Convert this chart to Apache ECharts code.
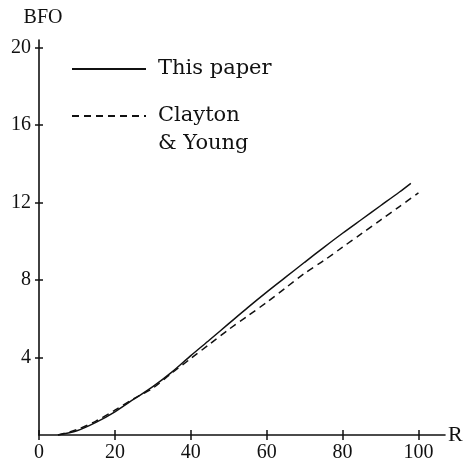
<!DOCTYPE html>
<html>
<head>
<meta charset="utf-8">
<script src="https://cdn.jsdelivr.net/npm/echarts@6/dist/echarts.min.js"></script>
<style>
  html, body { margin: 0; padding: 0; background: #fff; }
  #chart { width: 472px; height: 466px; }
</style>
</head>
<body>
<div id="chart"></div>
<script>
// R values and BFO
var rThis = [5, 10, 15, 20, 25, 30, 35, 40, 45, 50, 55, 60, 65, 70, 75, 80, 85, 90, 95, 98];
var bfoThis = [0, 0.22, 0.65, 1.2, 1.85, 2.5, 3.25, 4.1, 4.92, 5.75, 6.58, 7.38, 8.15, 8.92, 9.68, 10.42, 11.13, 11.84, 12.55, 13.0];
var rCY = [5, 10, 15, 20, 25, 30, 35, 40, 45, 50, 55, 60, 65, 70, 75, 80, 85, 90, 95, 100];
var bfoCY = [0, 0.28, 0.72, 1.28, 1.88, 2.42, 3.2, 3.95, 4.7, 5.45, 6.15, 6.85, 7.6, 8.35, 9.0, 9.7, 10.4, 11.1, 11.8, 12.5];
var xTicks = [0, 20, 40, 60, 80, 100];
var yTicks = [4, 8, 12, 16, 20];

function pairs(xs, ys) {
    return xs.map(function (x, i) { return [x, ys[i]]; });
}

var ink = '#111';
var serif = 'Liberation Serif';
var myChart = echarts.init(document.getElementById('chart'), null, {renderer: 'canvas'});

var legendText = {fontFamily: 'DejaVu Serif', fontSize: 21, color: ink, lineHeight: 28, padding: [0, 0, 0, 7]};

var option = {
    backgroundColor: '#fff',
    animation: false,
    grid: {left: 39, right: 27, top: 40, bottom: 31, containLabel: false},
    legend: [
        {
            data: ['This paper'],
            left: 71,
            top: 55,
            padding: 0,
            itemWidth: 74,
            itemHeight: 14,
            selectedMode: false,
            itemStyle: {color: 'transparent', borderWidth: 0, opacity: 0},
            textStyle: legendText
        },
        {
            data: ['Clayton & Young'],
            left: 71,
            top: 74,
            padding: 0,
            itemWidth: 74,
            itemHeight: 14,
            selectedMode: false,
            itemStyle: {color: 'transparent', borderWidth: 0, opacity: 0},
            // blank first line keeps the sample line level with "Clayton"
            formatter: function (name) {
                return ' \n' + name.replace(' & ', '\n& ');
            },
            textStyle: legendText
        }
    ],
    xAxis: [
        {
            type: 'value',
            min: 0,
            max: 107,
            name: 'R',
            nameLocation: 'end',
            nameGap: 3,
            nameTextStyle: {fontFamily: serif, fontSize: 22, color: ink, padding: [4, 0, 0, 0]},
            axisLine: {show: true, onZero: false, lineStyle: {color: ink, width: 1.6}},
            axisTick: {show: true, length: 5, customValues: xTicks, lineStyle: {color: ink, width: 1.5}},
            axisLabel: {customValues: xTicks, margin: 8, fontFamily: serif, fontSize: 20, color: ink},
            splitLine: {show: false}
        },
        {
            // upper half of the crossing ticks
            type: 'value',
            min: 0,
            max: 107,
            position: 'top',
            offset: -395,
            axisLine: {show: false, onZero: false},
            axisTick: {show: true, length: 5, customValues: xTicks, lineStyle: {color: ink, width: 1.5}},
            axisLabel: {show: false},
            splitLine: {show: false}
        }
    ],
    yAxis: [
        {
            type: 'value',
            min: 0,
            max: 20.4,
            name: 'BFO',
            nameLocation: 'end',
            nameGap: 12,
            nameTextStyle: {fontFamily: serif, fontSize: 20, color: ink, padding: [0, 0, 0, 8]},
            axisLine: {show: true, onZero: false, lineStyle: {color: ink, width: 1.6}},
            axisTick: {show: true, length: 4, customValues: yTicks, lineStyle: {color: ink, width: 1.5}},
            axisLabel: {customValues: yTicks, margin: 8, fontFamily: serif, fontSize: 20, color: ink},
            splitLine: {show: false}
        },
        {
            // right half of the crossing ticks
            type: 'value',
            min: 0,
            max: 20.4,
            position: 'right',
            offset: -406,
            axisLine: {show: false, onZero: false},
            axisTick: {show: true, length: 4, customValues: yTicks, lineStyle: {color: ink, width: 1.5}},
            axisLabel: {show: false},
            splitLine: {show: false}
        }
    ],
    series: [
        {
            name: 'This paper',
            type: 'line',
            xAxisIndex: 0,
            yAxisIndex: 0,
            smooth: 0.3,
            symbol: 'none',
            lineStyle: {color: ink, width: 1.5, type: 'solid'},
            itemStyle: {color: ink},
            data: pairs(rThis, bfoThis)
        },
        {
            name: 'Clayton & Young',
            type: 'line',
            xAxisIndex: 0,
            yAxisIndex: 0,
            smooth: 0.3,
            symbol: 'none',
            lineStyle: {color: ink, width: 1.5, type: [7, 5]},
            itemStyle: {color: ink},
            data: pairs(rCY, bfoCY)
        }
    ]
};
myChart.setOption(option);
</script>
</body>
</html>
